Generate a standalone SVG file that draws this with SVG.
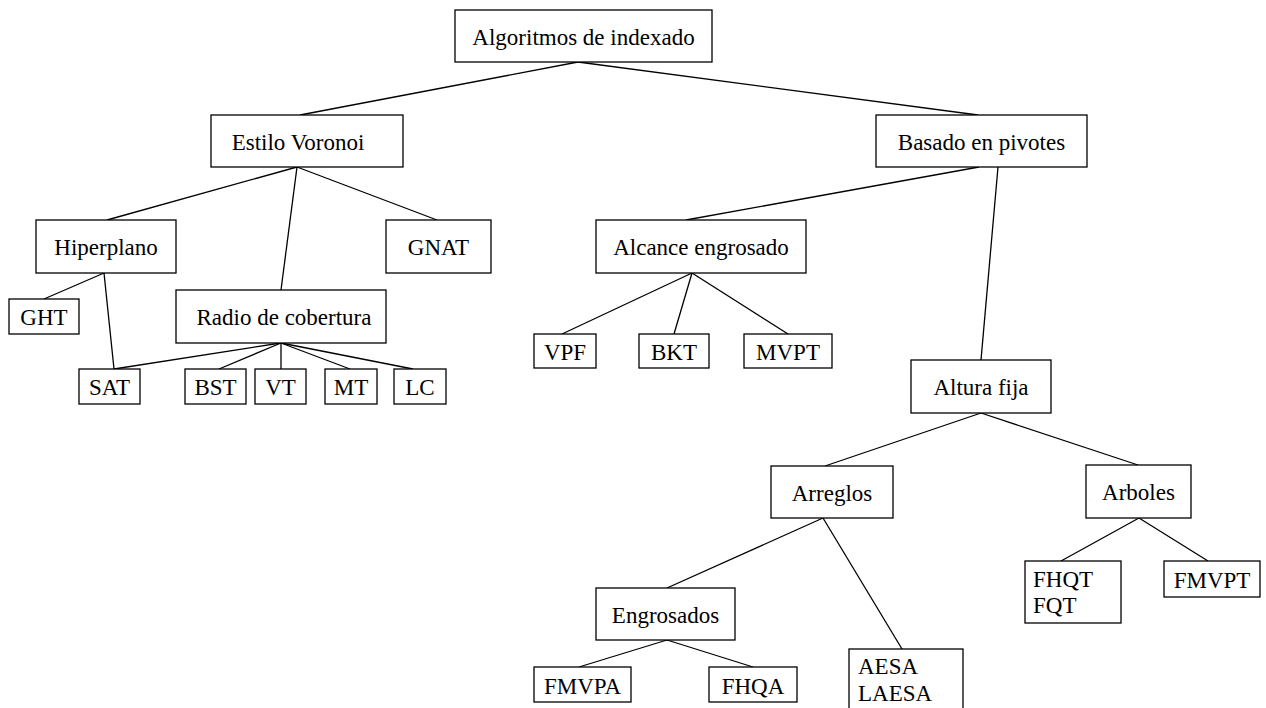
<svg xmlns="http://www.w3.org/2000/svg" width="1266" height="708" viewBox="0 0 1266 708">
<style>
rect{fill:#fff;stroke:#000;stroke-width:1.3}
line{stroke:#000;stroke-width:1.3}
text{font-family:"Liberation Serif","Tinos","DejaVu Serif",serif;font-size:23px;fill:#000;text-anchor:middle}
text.l{text-anchor:start}
</style>
<rect x="0" y="0" width="1266" height="708" style="stroke:none"/>
<g id="connectors">
<line x1="578" y1="62" x2="300" y2="115"/>
<line x1="578" y1="62" x2="978" y2="115"/>
<line x1="297" y1="167" x2="107" y2="220"/>
<line x1="297" y1="167" x2="281" y2="290"/>
<line x1="297" y1="167" x2="437" y2="220"/>
<line x1="104" y1="273" x2="44" y2="299"/>
<line x1="104" y1="273" x2="114" y2="369"/>
<line x1="281" y1="343" x2="114" y2="369"/>
<line x1="281" y1="343" x2="219" y2="369"/>
<line x1="281" y1="343" x2="281" y2="369"/>
<line x1="281" y1="343" x2="350" y2="369"/>
<line x1="281" y1="343" x2="413" y2="369"/>
<line x1="979" y1="167" x2="686" y2="220"/>
<line x1="998" y1="167" x2="981" y2="360"/>
<line x1="692" y1="273" x2="562" y2="334"/>
<line x1="692" y1="273" x2="674" y2="334"/>
<line x1="692" y1="273" x2="788" y2="334"/>
<line x1="981" y1="413" x2="825" y2="466"/>
<line x1="981" y1="413" x2="1138" y2="465"/>
<line x1="823" y1="518" x2="667" y2="588"/>
<line x1="823" y1="518" x2="902" y2="649"/>
<line x1="1139" y1="518" x2="1061" y2="561"/>
<line x1="1139" y1="518" x2="1208" y2="561"/>
<line x1="667" y1="640" x2="579" y2="667"/>
<line x1="667" y1="640" x2="753" y2="667"/>
</g>
<g id="n-algoritmos"><rect x="455" y="10" width="257" height="52"/><text x="583.5" y="45">Algoritmos de indexado</text></g>
<g id="n-estilo"><rect x="211" y="115" width="192" height="52"/><text x="298" y="150">Estilo Voronoi</text></g>
<g id="n-basado"><rect x="876" y="115" width="211" height="52"/><text x="981.5" y="150">Basado en pivotes</text></g>
<g id="n-hiperplano"><rect x="36" y="220" width="140" height="53"/><text x="106" y="255">Hiperplano</text></g>
<g id="n-gnat"><rect x="386" y="220" width="105" height="53"/><text x="438.5" y="255">GNAT</text></g>
<g id="n-radio"><rect x="176" y="290" width="210" height="53"/><text x="284" y="325">Radio de cobertura</text></g>
<g id="n-ght"><rect x="9" y="299" width="70" height="35"/><text x="44" y="325">GHT</text></g>
<g id="n-sat"><rect x="79" y="369" width="61" height="35"/><text x="109.5" y="395">SAT</text></g>
<g id="n-bst"><rect x="185" y="369" width="61" height="35"/><text x="215.5" y="395">BST</text></g>
<g id="n-vt"><rect x="255" y="369" width="51" height="35"/><text x="280.5" y="395">VT</text></g>
<g id="n-mt"><rect x="325" y="369" width="52" height="35"/><text x="351" y="395">MT</text></g>
<g id="n-lc"><rect x="394" y="369" width="52" height="35"/><text x="420" y="395">LC</text></g>
<g id="n-alcance"><rect x="596" y="220" width="210" height="53"/><text x="701" y="255">Alcance engrosado</text></g>
<g id="n-vpf"><rect x="534" y="334" width="62" height="34"/><text x="565" y="360">VPF</text></g>
<g id="n-bkt"><rect x="639" y="334" width="70" height="34"/><text x="674" y="360">BKT</text></g>
<g id="n-mvpt"><rect x="744" y="334" width="88" height="34"/><text x="788" y="360">MVPT</text></g>
<g id="n-altura"><rect x="911" y="360" width="140" height="53"/><text x="981" y="395">Altura fija</text></g>
<g id="n-arreglos"><rect x="771" y="466" width="122" height="52"/><text x="832" y="501">Arreglos</text></g>
<g id="n-arboles"><rect x="1086" y="465" width="105" height="53"/><text x="1138.5" y="500">Arboles</text></g>
<g id="n-fhqt"><rect x="1025" y="561" width="96" height="62"/><text class="l" x="1033" y="587">FHQT</text><text class="l" x="1033" y="613">FQT</text></g>
<g id="n-fmvpt"><rect x="1164" y="561" width="96" height="36"/><text x="1212" y="588">FMVPT</text></g>
<g id="n-engrosados"><rect x="596" y="588" width="139" height="52"/><text x="665.5" y="623">Engrosados</text></g>
<g id="n-fmvpa"><rect x="534" y="667" width="97" height="35"/><text x="582.5" y="694">FMVPA</text></g>
<g id="n-fhqa"><rect x="709" y="667" width="88" height="35"/><text x="753" y="694">FHQA</text></g>
<g id="n-aesa"><rect x="849" y="649" width="114" height="70"/><text class="l" x="858" y="674">AESA</text><text class="l" x="858" y="701">LAESA</text></g>
</svg>
